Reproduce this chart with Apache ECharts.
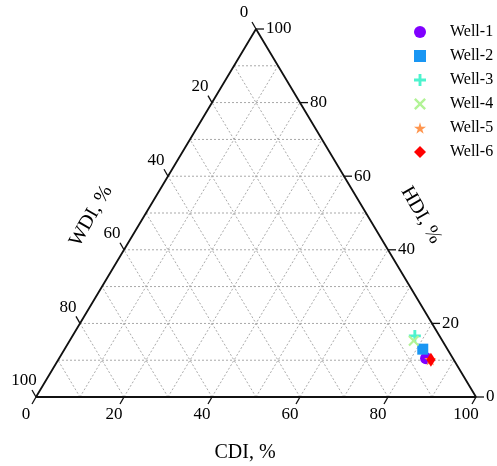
<!DOCTYPE html>
<html>
<head>
<meta charset="utf-8">
<script src="https://cdn.jsdelivr.net/npm/echarts@6/dist/echarts.min.js"></script>
<style>html,body{margin:0;padding:0;background:#fff;}#c{width:497px;height:466px;}</style>
</head>
<body>
<div id="c"></div>
<script>
// ---- data ----
const wells = ['Well-1', 'Well-2', 'Well-3', 'Well-4', 'Well-5', 'Well-6'];
const cdi = [83.4, 81.4, 77.8, 78.2, 84.5, 84.7];
const hdi = [10.5, 13.0, 16.6, 15.3, 10.2, 10.1];
const wdi = [6.1, 5.6, 5.6, 6.5, 5.3, 5.2];
const tickValues = [0, 20, 40, 60, 80, 100];
const gridValues = [10, 20, 30, 40, 50, 60, 70, 80, 90];
const axisTitles = { bottom: 'CDI, %', right: 'HDI, %', left: 'WDI, %' };

const colors = ['#8000ff', '#1996f3', '#4df3ce', '#b2f396', '#ff964f', '#ff0000'];
const symbols = [
  'circle',
  'rect',
  'path://M38,0H62V38H100V62H62V100H38V62H0V38H38Z',
  'path://M14,0L50,36L86,0L100,14L64,50L100,86L86,100L50,64L14,100L0,86L36,50L0,14Z',
  'path://M50,0L61,35L98,35L68,57L79,91L50,70L21,91L32,57L2,35L39,35Z',
  'diamond'
];
const sizes = [12, 11, 12, 11, 12, [9, 14]];

const FONT = '"Liberation Serif", "DejaVu Serif", serif';

// ternary -> cartesian (x along CDI axis, y = HDI height)
function toXY(a, b, c) {
  const s = a + b + c;
  const A = a / s * 100, B = b / s * 100;
  return [A + B / 2, B];
}

const chart = echarts.init(document.getElementById('c'));

const series = [];

// grid lines
series.push({
  type: 'custom',
  silent: true,
  data: gridValues.map(k => [k, 0]),
  renderItem: function (params, api) {
    const k = api.value(0);
    const st = { stroke: '#a0a0a0', lineWidth: 0.9, lineDash: [2, 2] };
    const seg = (p, q) => {
      const P = api.coord(p), Q = api.coord(q);
      return { type: 'line', shape: { x1: P[0], y1: P[1], x2: Q[0], y2: Q[1] }, style: st };
    };
    return {
      type: 'group',
      children: [
        seg([k / 2, k], [100 - k / 2, k]),
        seg([k, 0], [k + (100 - k) / 2, 100 - k]),
        seg([100 - k, 0], [(100 - k) / 2, 100 - k])
      ]
    };
  },
  z: 1
});

// triangle outline
series.push({
  type: 'line',
  silent: true,
  symbol: 'none',
  data: [[0, 0], [100, 0], [50, 100], [0, 0]],
  lineStyle: { color: '#111', width: 1.8 },
  z: 3
});

// ticks + tick labels
series.push({
  type: 'custom',
  silent: true,
  data: tickValues.map(k => [k, 0]),
  renderItem: function (params, api) {
    const k = api.value(0);
    const ch = [];
    const lineSt = { stroke: '#111', lineWidth: 1.3 };
    const txt = (x, y, t, align) => ({
      type: 'text',
      style: { text: t, x: x, y: y, align: align, verticalAlign: 'middle', fill: '#000', font: '17px ' + FONT }
    });
    // bottom: CDI
    let P = api.coord([k, 0]);
    ch.push({ type: 'line', shape: { x1: P[0], y1: P[1], x2: P[0] - 4, y2: P[1] + 7 }, style: lineSt });
    ch.push(txt(P[0] - 10, P[1] + 18, String(k), 'center'));
    // right: HDI
    P = api.coord([100 - k / 2, k]);
    ch.push({ type: 'line', shape: { x1: P[0], y1: P[1], x2: P[0] + 8, y2: P[1] }, style: lineSt });
    ch.push(txt(P[0] + 10, P[1], String(k), 'left'));
    // left: WDI
    P = api.coord([(100 - k) / 2, 100 - k]);
    ch.push({ type: 'line', shape: { x1: P[0], y1: P[1], x2: P[0] - 4, y2: P[1] - 7 }, style: lineSt });
    ch.push(txt(P[0] - 12, P[1] - 16, String(k), 'center'));
    return { type: 'group', children: ch };
  },
  z: 4
});

// wells
wells.forEach((w, i) => {
  series.push({
    name: w,
    type: 'scatter',
    data: [toXY(cdi[i], hdi[i], wdi[i])],
    symbol: symbols[i],
    symbolSize: sizes[i],
    itemStyle: { color: colors[i], opacity: 1 },
    z: 10 + i
  });
});

chart.setOption({
  animation: false,
  backgroundColor: '#fff',
  grid: { left: 36, right: 21, top: 29, bottom: 69 },
  xAxis: { type: 'value', min: 0, max: 100, show: false },
  yAxis: { type: 'value', min: 0, max: 100, show: false },
  legend: {
    data: wells,
    orient: 'vertical',
    left: 409,
    top: 19,
    itemWidth: 12,
    itemHeight: 12,
    itemGap: 8,
    textStyle: { fontFamily: FONT, fontSize: 16, color: '#000', padding: [0, 0, 0, 19] }
  },
  graphic: [
    { type: 'text', x: 245, y: 453, style: { text: axisTitles.bottom, align: 'center', verticalAlign: 'middle', fill: '#000', font: '20px ' + FONT } },
    { type: 'text', x: 421, y: 215, rotation: -Math.PI / 3, style: { text: axisTitles.right, align: 'center', verticalAlign: 'middle', fill: '#000', font: '20px ' + FONT } },
    { type: 'text', x: 91, y: 216, rotation: Math.PI / 3, style: { text: axisTitles.left, align: 'center', verticalAlign: 'middle', fill: '#000', font: '20px ' + FONT } }
  ],
  series: series
});
</script>
</body>
</html>
